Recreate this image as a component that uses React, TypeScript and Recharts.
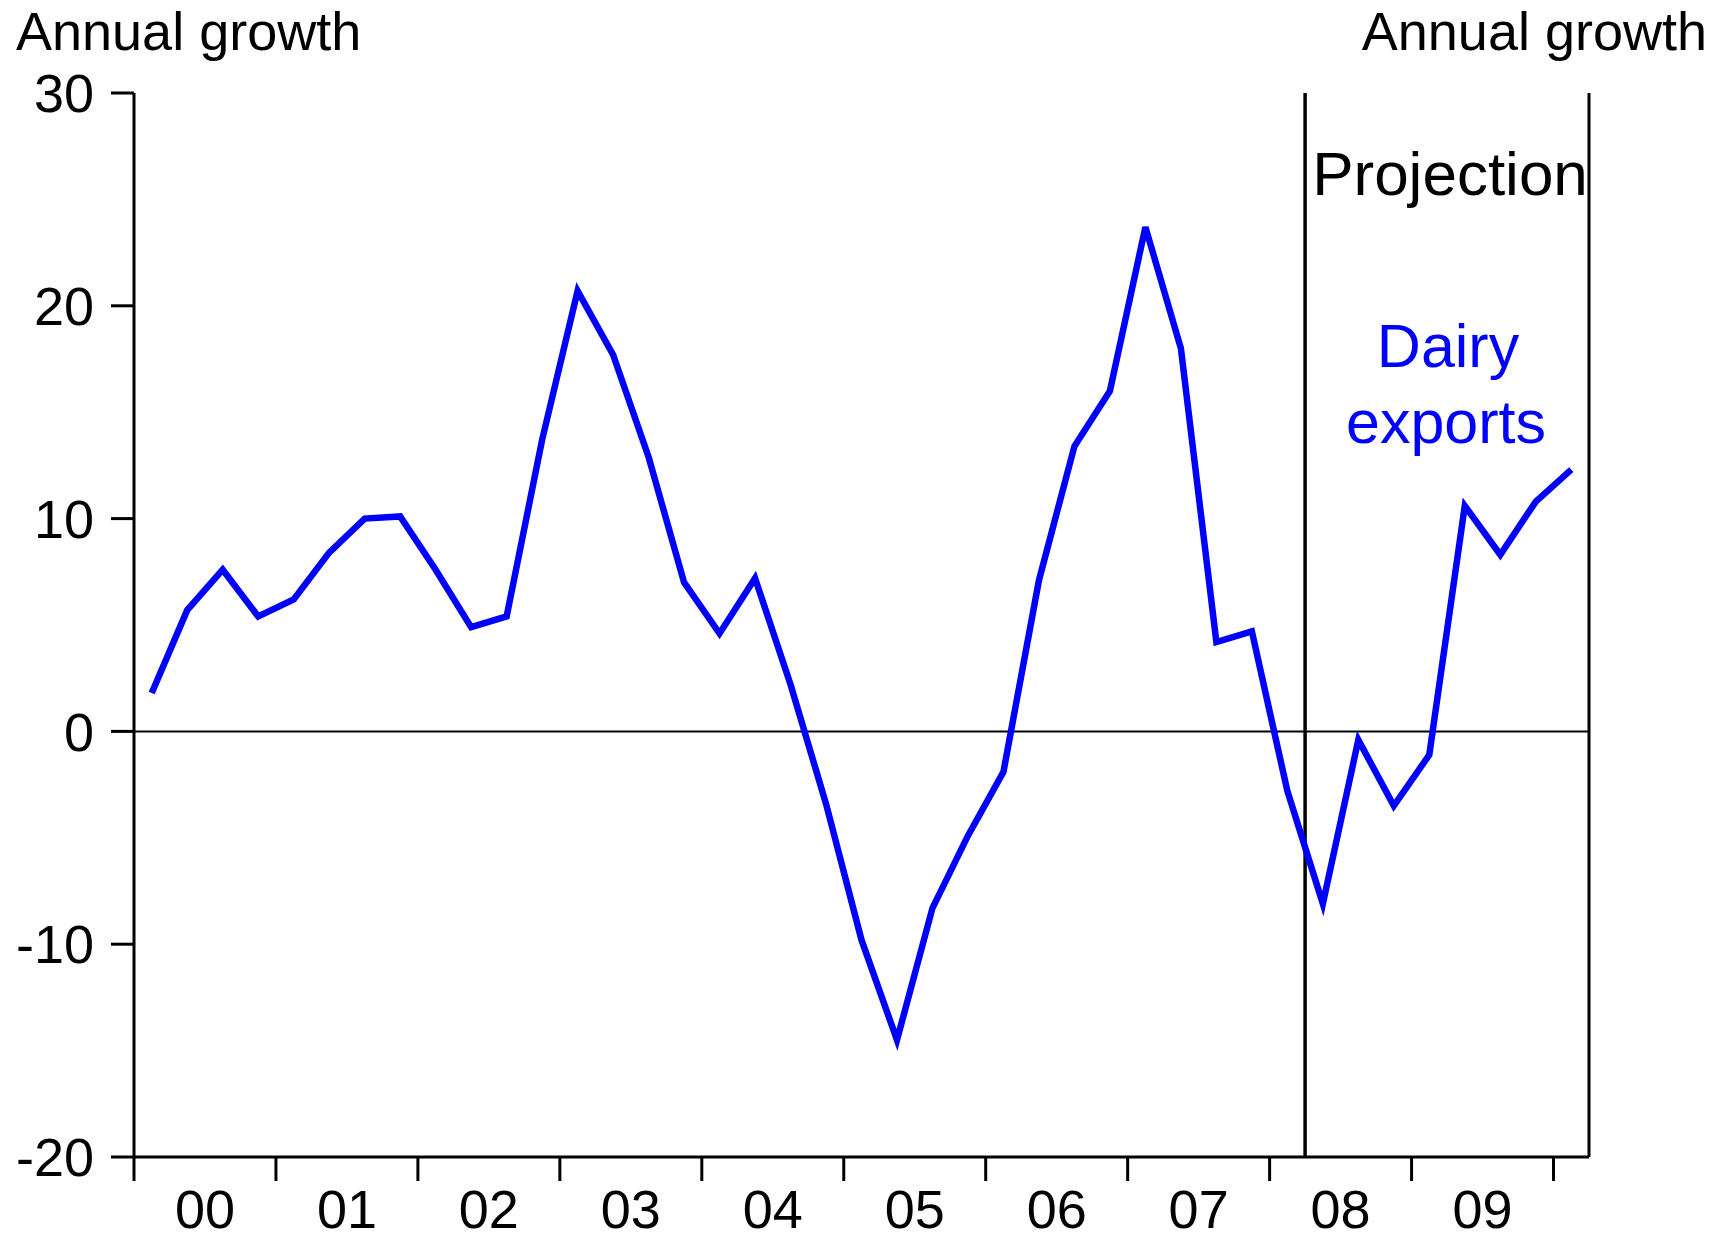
import { LineChart, Line, XAxis, YAxis, ReferenceLine } from "recharts";

const FONT = '"Liberation Sans", Arial, sans-serif';
const BLUE = "#0000ff";

// quarterly, 2000 Q1 to 2010 Q1
const dairyExports = [
  1.8, 5.7, 7.6, 5.4, 6.2, 8.4, 10.0, 10.1, 7.6, 4.9, 5.4, 13.7, 20.7, 17.7,
  12.9, 7.0, 4.6, 7.2, 2.2, -3.4, -9.8, -14.5, -8.3, -4.9, -1.9, 7.1, 13.4,
  16.0, 23.7, 18.0, 4.2, 4.7, -2.8, -8.1, -0.4, -3.5, -1.1, 10.6, 8.3, 10.8,
  12.3,
];
const yearLabels = ["00", "01", "02", "03", "04", "05", "06", "07", "08", "09"];
const yTicks = [-20, -10, 0, 10, 20, 30];
const projectionStart = 33; // start of 2008 Q2, in quarters from 2000 Q1

const data = dairyExports.map((v, i) => ({ x: i + 0.5, value: v }));
const yearEdges = [...yearLabels.map((_, i) => i * 4), yearLabels.length * 4];
const yearMids = yearLabels.map((_, i) => i * 4 + 2);
const xDomain = [0, dairyExports.length];

const axisStroke = { stroke: "#000", strokeWidth: 3 };
const tickText = { fill: "#000", fontSize: 54, fontFamily: FONT };

export default function App() {
  return (
    <div style={{ position: "absolute", left: 0, top: 0, width: 1728, height: 1240, background: "#fff" }}>
      <LineChart width={1728} height={1240} data={data} margin={{ top: 93, right: 0, bottom: 0, left: 0 }}>
        {/* axes are stacked by id, so the tick-mark axis sorts first */}
        <XAxis
          xAxisId="a-edges"
          dataKey="x"
          type="number"
          domain={xDomain}
          ticks={yearEdges}
          allowDataOverflow
          height={1}
          tickSize={24}
          interval={0}
          axisLine={axisStroke}
          tickLine={axisStroke}
          tick={() => <g />}
        />
        <XAxis
          xAxisId="b-labels"
          dataKey="x"
          type="number"
          domain={xDomain}
          ticks={yearMids}
          allowDataOverflow
          height={82}
          axisLine={false}
          tickLine={false}
          tickSize={0}
          tickMargin={32}
          interval={0}
          tick={tickText}
          tickFormatter={(v: number) => yearLabels[(v - 2) / 4]}
        />
        <YAxis
          yAxisId="l"
          domain={[-20, 30]}
          ticks={yTicks}
          width={134}
          tickSize={23}
          tickMargin={17}
          interval={0}
          axisLine={axisStroke}
          tickLine={axisStroke}
          tick={tickText}
        />
        <YAxis
          yAxisId="r"
          orientation="right"
          domain={[-20, 30]}
          ticks={yTicks}
          width={139}
          tickSize={22}
          tickMargin={19}
          interval={0}
          axisLine={axisStroke}
          tickLine={axisStroke}
          tick={tickText}
        />
        <ReferenceLine yAxisId="l" xAxisId="a-edges" y={0} stroke="#000" strokeWidth={2} />
        <ReferenceLine yAxisId="l" xAxisId="a-edges" x={projectionStart} stroke="#000" strokeWidth={3.5} />
        <Line
          xAxisId="a-edges"
          yAxisId="l"
          type="linear"
          dataKey="value"
          stroke={BLUE}
          strokeWidth={6.5}
          strokeLinejoin="miter"
          dot={false}
          isAnimationActive={false}
        />
      </LineChart>
      <svg
        width={1728}
        height={1240}
        style={{ position: "absolute", left: 0, top: 0, pointerEvents: "none" }}
        fontFamily={FONT}
      >
        <text x={16} y={50} fontSize={54} fill="#000">Annual growth</text>
        <text x={1707} y={50} fontSize={54} fill="#000" textAnchor="end">Annual growth</text>
        <text x={1450} y={195} fontSize={62} fill="#000" textAnchor="middle">Projection</text>
        <text x={1448} y={367} fontSize={61} fill={BLUE} textAnchor="middle">Dairy</text>
        <text x={1446} y={443} fontSize={61} fill={BLUE} textAnchor="middle">exports</text>
      </svg>
    </div>
  );
}
